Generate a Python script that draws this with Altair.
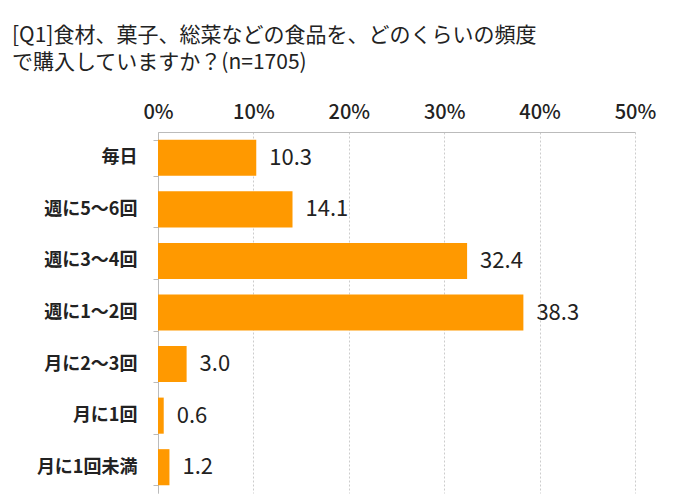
import altair as alt
import pandas as pd

categories = ["毎日", "週に5～6回", "週に3～4回", "週に1～2回", "月に2～3回", "月に1回", "月に1回未満"]
values = [10.3, 14.1, 32.4, 38.3, 3.0, 0.6, 1.2]
title_lines = ["[Q1]食材、菓子、総菜などの食品を、どのくらいの頻度", "で購入していますか？(n=1705)"]

df = pd.DataFrame({"cat": categories, "val": values})
FONT = "Noto Sans CJK JP"

y_enc = alt.Y("cat:N", sort=categories, title=None,
              scale=alt.Scale(paddingInner=0.3, paddingOuter=0.15),
              axis=alt.Axis(labelFontSize=18, labelFontWeight="bold", labelColor="#222",
                            labelFont=FONT, labelPadding=16, domainColor="#bbbbbb",
                            tickColor="#bbbbbb", tickSize=5, tickBand="extent",
                            ticks=True))

x_enc = alt.X("val:Q", title=None,
              scale=alt.Scale(domain=[0, 50], nice=False),
              axis=alt.Axis(orient="top", values=[0, 10, 20, 30, 40, 50],
                            labelExpr="datum.value + '%'", labelFontSize=20,
                            labelFont=FONT, labelColor="#222", labelPadding=10,
                            labelFlush=False, labelFontWeight=500,
                            ticks=False, domainColor="#bbbbbb",
                            grid=True, gridColor="#cccccc", gridDash=[2, 2]))

bars = alt.Chart(df).mark_bar(color="#FF9900").encode(x=x_enc, y=y_enc)
labels = alt.Chart(df).mark_text(align="left", baseline="middle", dx=13, fontSize=22,
                                 font=FONT, color="#222", fontWeight="normal").encode(
    x=alt.X("val:Q"), y=alt.Y("cat:N", sort=categories),
    text=alt.Text("val:Q", format=".1f"))

chart = (bars + labels).properties(
    width=477, height=361,
    autosize=alt.AutoSizeParams(type="none"),
    padding={"left": 150, "top": 124, "right": 30, "bottom": 2},
    title=alt.TitleParams(text=title_lines, anchor="start", frame="group",
                          dx=-146, offset=29, fontSize=21, font=FONT,
                          fontWeight="normal", color="#222", lineHeight=27),
).configure_view(stroke=None)

chart.save("out.html", embed_options={"renderer": "svg", "actions": False})
